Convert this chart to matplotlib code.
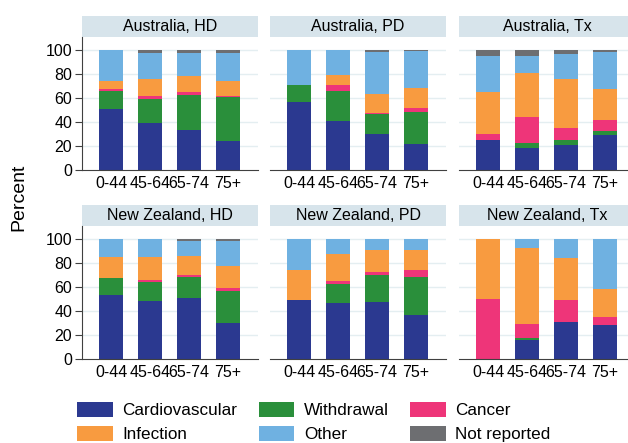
import numpy as np
import matplotlib.pyplot as plt
from matplotlib.patches import Rectangle, Patch

plt.rcParams["font.family"] = ["Liberation Sans", "DejaVu Sans"]

ages = ["0-44", "45-64", "65-74", "75+"]
panels = ["Australia, HD", "Australia, PD", "Australia, Tx",
          "New Zealand, HD", "New Zealand, PD", "New Zealand, Tx"]
causes = ["Cardiovascular", "Withdrawal", "Cancer", "Infection", "Other", "Not reported"]

# percent by panel (rows) and age group (cols)
cardio = [[51.0, 39.0, 33.3, 24.2],
          [56.9, 40.8, 30.0, 21.7],
          [25.0, 18.3, 20.8, 28.9],
          [53.6, 48.3, 50.8, 30.4],
          [49.2, 46.7, 47.5, 37.0],
          [0.0, 15.5, 30.9, 28.7]]
withdrawal = [[15.0, 20.0, 29.2, 36.4],
              [13.9, 25.0, 16.7, 26.6],
              [0.0, 4.2, 4.2, 3.3],
              [13.8, 15.8, 17.7, 26.5],
              [0.0, 15.7, 22.7, 31.5],
              [0.0, 2.2, 0.0, 0.0]]
cancer = [[1.1, 2.5, 2.8, 1.3],
          [0.0, 5.0, 0.8, 3.6],
          [5.0, 21.7, 10.3, 9.5],
          [0.0, 1.6, 1.7, 2.2],
          [0.0, 2.8, 2.2, 5.5],
          [50.0, 11.6, 18.3, 6.1]]
infection = [[7.3, 14.1, 13.0, 12.3],
             [0.0, 8.1, 16.1, 16.7],
             [35.0, 36.6, 40.5, 25.5],
             [17.7, 19.4, 15.4, 18.2],
             [24.8, 22.1, 18.2, 16.6],
             [50.0, 63.0, 34.8, 23.8]]
other = [[25.6, 22.0, 19.5, 23.6],
         [29.2, 21.1, 34.7, 30.6],
         [30.3, 14.5, 21.1, 31.1],
         [14.9, 14.9, 12.5, 20.8],
         [26.0, 12.7, 9.4, 9.4],
         [0.0, 7.7, 16.0, 41.4]]
not_reported = [[0.0, 2.2, 2.2, 2.2],
                [0.0, 0.0, 1.7, 0.8],
                [4.7, 4.7, 3.1, 1.7],
                [0.0, 0.0, 1.9, 1.9],
                [0.0, 0.0, 0.0, 0.0],
                [0.0, 0.0, 0.0, 0.0]]

colors = ["#2b3990", "#2a8f3b", "#ee3579", "#f89b40", "#6fb1e1", "#6d6e71"]
series = [cardio, withdrawal, cancer, infection, other, not_reported]

W, H = 628, 443
fig = plt.figure(figsize=(W / 100, H / 100), dpi=100)

lefts = [82, 270, 459]
bottoms = [170, 359]
pw, ph = 176, 133
x = np.arange(len(ages))

for k, name in enumerate(panels):
    r, c = divmod(k, 3)
    ax = fig.add_axes([lefts[c] / W, (H - bottoms[r]) / H, pw / W, ph / H])
    base = np.zeros(len(ages))
    for vals, col in zip(series, colors):
        v = np.array(vals[k])
        ax.bar(x, v, bottom=base, width=0.62, color=col, linewidth=0, zorder=2)
        base += v
    ax.set_xlim(-0.75, 3.77)
    ax.set_ylim(0, 110.8)
    for g in [20, 40, 60, 80, 100]:
        ax.axhline(g, color="#e4eef1", lw=1.0, zorder=1)
    ax.set_xticks(x)
    ax.set_xticklabels(ages, fontsize=11.5)
    ax.tick_params(axis="x", length=0, pad=4)
    for s in ["top", "right"]:
        ax.spines[s].set_visible(False)
    ax.spines["bottom"].set_color("#404040")
    if c == 0:
        ax.set_yticks([0, 20, 40, 60, 80, 100])
        ax.tick_params(axis="y", labelsize=11.5, length=5, color="#404040", pad=2)
        ax.spines["left"].set_color("#404040")
    else:
        ax.set_yticks([])
        ax.spines["left"].set_visible(False)
    # strip header
    sh = 21 / ph
    ax.add_patch(Rectangle((0, 1.0), 1, sh, transform=ax.transAxes,
                           facecolor="#d7e4eb", edgecolor="none", clip_on=False))
    ax.text(0.5, 1.0 + sh / 2, name, transform=ax.transAxes, ha="center",
            va="center", fontsize=11.5)

fig.text(19 / W, 1 - 197 / H, "Percent", rotation=90, ha="center", va="center", fontsize=14)

# legend, row-major order via column-major handles
order = [0, 3, 1, 4, 2, 5]
handles = [Patch(facecolor=colors[i], edgecolor="none") for i in order]
labels = [causes[i] for i in order]
fig.legend(handles, labels, ncol=3, loc="center left",
           bbox_to_anchor=(65 / W, 1 - 422 / H), frameon=False, fontsize=12.3,
           handlelength=2.1, handleheight=1.0, handletextpad=0.55,
           columnspacing=1.25, labelspacing=0.42, borderpad=0.2)

fig.savefig("out.png", dpi=100)
